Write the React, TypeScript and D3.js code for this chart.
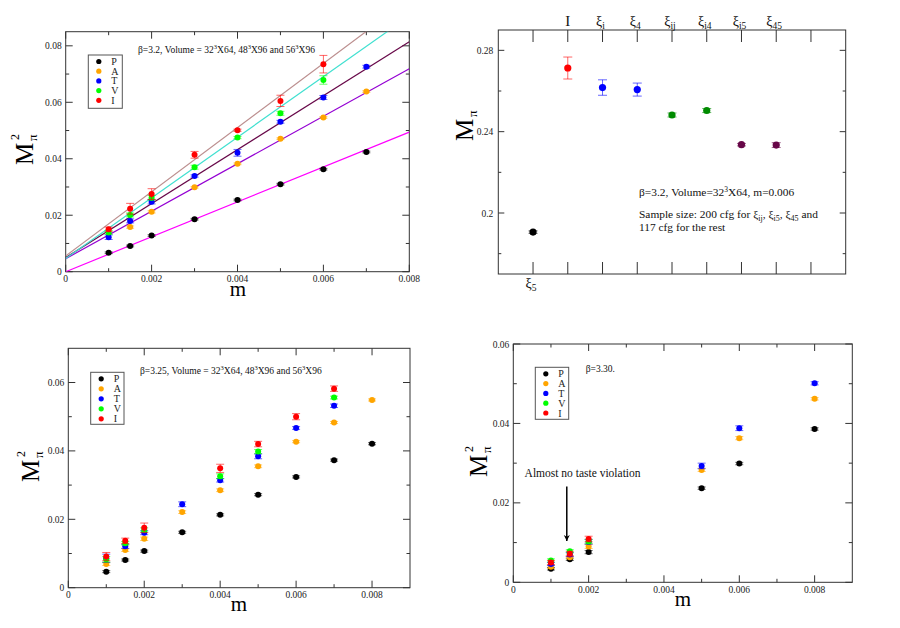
import * as d3 from 'd3';

const FONT = '"Liberation Serif", "Times New Roman", serif';

// taste channels shared by the three mass plots
const tasteNames = ['P', 'A', 'T', 'V', 'I'];
const tasteColors = ['#000000', '#ffa500', '#0000ff', '#00ff00', '#ff0000'];

// beta = 3.2
const mass32 = [0.001, 0.0015, 0.002, 0.003, 0.004, 0.005, 0.006, 0.007];
const p32 = [0.0067, 0.0091, 0.0128, 0.0186, 0.0254, 0.031, 0.0363, 0.0424];
const a32 = [null, 0.0158, 0.0212, 0.0299, 0.0382, 0.0471, 0.0546, 0.0638];
const t32 = [0.0122, 0.018, 0.0248, 0.0339, 0.0421, 0.0531, 0.0617, 0.0726];
const v32 = [0.0139, 0.0201, 0.0262, 0.037, 0.0475, 0.0561, 0.0679, null];
const i32 = [0.015, 0.0223, 0.0275, 0.0414, 0.0501, 0.0605, 0.0735, null];
const p32Err = [0.0003, 0.0003, 0.0003, 0.0003, 0.0003, 0.0003, 0.0003, 0.0003];
const a32Err = [null, 0.0004, 0.0004, 0.0003, 0.0003, 0.0003, 0.0003, 0.0003];
const t32Err = [0.0008, 0.0007, 0.0008, 0.0004, 0.0012, 0.0005, 0.0007, 0.0005];
const v32Err = [0.0007, 0.0007, 0.0008, 0.0007, 0.0004, 0.0007, 0.0015, null];
const i32Err = [0.0008, 0.0019, 0.0019, 0.0012, 0.0004, 0.002, 0.0031, null];
// linear fits M^2 = c + s*m
const fitIntercept32 = [0, 0.0046, 0.005, 0.0047, 0.0056];
const fitSlope32 = [6.18, 8.41, 9.56, 10.73, 11.36];
const fitColors32 = ['#ff00ff', '#9400d3', '#670748', '#40e0d0', '#bc8f8f'];

// beta = 3.25
const mass325 = [0.001, 0.0015, 0.002, 0.003, 0.004, 0.005, 0.006, 0.007, 0.008];
const p325 = [0.0047, 0.0081, 0.0107, 0.0162, 0.0213, 0.0272, 0.0324, 0.0373, 0.0421];
const a325 = [0.0069, 0.011, 0.0143, 0.0221, 0.0285, 0.0355, 0.0427, 0.0483, 0.0549];
const t325 = [0.0086, 0.0121, 0.0161, 0.0244, 0.0314, 0.0384, 0.0467, 0.0532, null];
const v325 = [0.0083, 0.013, 0.0169, null, 0.0326, 0.0398, null, 0.0556, null];
const i325 = [0.0091, 0.0137, 0.0175, null, 0.0349, 0.042, 0.05, 0.0582, null];
const p325Err = [0.0003, 0.0003, 0.0003, 0.0003, 0.0003, 0.0003, 0.0003, 0.0003, 0.0003];
const a325Err = [0.0004, 0.0004, 0.0005, 0.0004, 0.0004, 0.0004, 0.0003, 0.0003, 0.0003];
const t325Err = [0.0012, 0.0006, 0.0006, 0.0007, 0.0005, 0.0007, 0.0004, 0.0005, null];
const v325Err = [0.0008, 0.0005, 0.0006, null, 0.0007, 0.0006, null, 0.0004, null];
const i325Err = [0.0012, 0.0008, 0.0014, null, 0.0012, 0.0008, 0.0009, 0.0008, null];

// beta = 3.30
const mass330 = [0.001, 0.0015, 0.002, 0.005, 0.006, 0.008];
const p330 = [0.0034, 0.0058, 0.0076, 0.0237, 0.0299, 0.0386];
const a330 = [0.0039, 0.0063, 0.009, 0.0283, 0.0363, 0.0462];
const t330 = [0.0046, 0.007, 0.0102, 0.0293, 0.0388, 0.0501];
const v330 = [0.0055, 0.0078, 0.0103, null, null, null];
const i330 = [0.005, 0.0072, 0.0109, null, null, null];
const p330Err = [0.0003, 0.0003, 0.0004, 0.0003, 0.0003, 0.0003];
const a330Err = [0.0004, 0.0004, 0.0005, 0.0004, 0.0004, 0.0003];
const t330Err = [0.0004, 0.0005, 0.0006, 0.0007, 0.0006, 0.0004];
const v330Err = [0.0004, 0.0004, 0.0005, null, null, null];
const i330Err = [0.0005, 0.0006, 0.0007, null, null, null];

// taste splitting at m = 0.006
const splitBase = ['ξ', 'I', 'ξ', 'ξ', 'ξ', 'ξ', 'ξ', 'ξ'];
const splitSub = ['5', '', 'i', '4', 'ij', 'i4', 'i5', '45'];
const splitMpi = [0.1906, 0.2713, 0.2617, 0.2607, 0.2482, 0.2504, 0.2336, 0.2334];
const splitErr = [0.0006, 0.0054, 0.0038, 0.0032, 0.001, 0.001, 0.0006, 0.0012];
const splitColors = ['#000000', '#ff0000', '#0000ff', '#0000ff', '#008b00', '#008b00', '#670748', '#670748'];

const fmt = (v: number) => (Math.abs(v) < 1e-12 ? '0' : String(+v.toFixed(4)));
const steps = (from: number, to: number, step: number) =>
    d3.range(0, Math.floor((to - from) / step + 1e-6) + 1).map(i => +(from + i * step).toFixed(6));

type Box = { left: number; top: number; right: number; bottom: number };

function Frame({ box }: { box: Box }) {
    return (
        <rect x={box.left} y={box.top} width={box.right - box.left} height={box.bottom - box.top}
            fill="none" stroke="#333" strokeWidth={1} />
    );
}

function YLabel({ x, y, sup }: { x: number; y: number; sup: boolean }) {
    return (
        <g transform={`translate(${x},${y}) rotate(-90)`} fontFamily={FONT} fill="#000">
            <text x={0} y={0} fontSize={25}>M</text>
            <text x={24} y={4} fontSize={13}>π</text>
            {sup && <text x={25} y={-14} fontSize={12}>2</text>}
        </g>
    );
}

function ErrPoint({ x, y, e, color, r, cap }: { x: number; y: number; e: number; color: string; r: number; cap: number }) {
    return (
        <g>
            <g stroke={color} strokeWidth={1} strokeOpacity={0.6}>
                <line x1={x} x2={x} y1={y - e} y2={y + e} />
                <line x1={x - cap} x2={x + cap} y1={y - e} y2={y - e} />
                <line x1={x - cap} x2={x + cap} y1={y + e} y2={y + e} />
            </g>
            <circle cx={x} cy={y} r={r} fill={color} />
        </g>
    );
}

type PanelProps = {
    id: string;
    box: Box;
    xMax: number;
    yMax: number;
    mass: number[];
    values: (number | null)[][];
    errors: (number | null)[][];
    fitIntercept?: number[];
    fitSlope?: number[];
    fitColors?: string[];
    legend: { left: number; top: number; width: number; height: number; step: number };
    title: React.ReactNode;
    titleX: number;
    titleY: number;
    yLab: { x: number; y: number };
    xLab: { x: number; y: number };
    children?: (x: d3.ScaleLinear<number, number>, y: d3.ScaleLinear<number, number>) => React.ReactNode;
};

function MassPanel(p: PanelProps) {
    const { box } = p;
    const x = d3.scaleLinear().domain([0, p.xMax]).range([box.left, box.right]);
    const y = d3.scaleLinear().domain([0, p.yMax]).range([box.bottom, box.top]);
    const xMajor = steps(0, p.xMax, 0.002);
    const xMinor = steps(0.001, p.xMax - 0.0001, 0.002);
    const yMajor = steps(0, p.yMax, 0.02);
    const yMinor = steps(0.01, p.yMax - 0.0001, 0.02);
    const big = 7, small = 3.5;
    return (
        <g>
            <defs>
                <clipPath id={p.id}>
                    <rect x={box.left} y={box.top} width={box.right - box.left} height={box.bottom - box.top} />
                </clipPath>
            </defs>
            <g stroke="#333" strokeWidth={1}>
                {xMajor.map(v => (
                    <g key={'xM' + v}>
                        <line x1={x(v)} x2={x(v)} y1={box.bottom} y2={box.bottom - big} />
                        <line x1={x(v)} x2={x(v)} y1={box.top} y2={box.top + big} />
                    </g>
                ))}
                {xMinor.map(v => (
                    <g key={'xm' + v}>
                        <line x1={x(v)} x2={x(v)} y1={box.bottom} y2={box.bottom - small} />
                        <line x1={x(v)} x2={x(v)} y1={box.top} y2={box.top + small} />
                    </g>
                ))}
                {yMajor.map(v => (
                    <g key={'yM' + v}>
                        <line x1={box.left} x2={box.left + big} y1={y(v)} y2={y(v)} />
                        <line x1={box.right} x2={box.right - big} y1={y(v)} y2={y(v)} />
                    </g>
                ))}
                {yMinor.map(v => (
                    <g key={'ym' + v}>
                        <line x1={box.left} x2={box.left + small} y1={y(v)} y2={y(v)} />
                        <line x1={box.right} x2={box.right - small} y1={y(v)} y2={y(v)} />
                    </g>
                ))}
            </g>
            <Frame box={box} />
            <g fontFamily={FONT} fontSize={9.5} fill="#222">
                {xMajor.map(v => (
                    <text key={'xl' + v} x={x(v)} y={box.bottom + 10.5} textAnchor="middle">{fmt(v)}</text>
                ))}
                {yMajor.map(v => (
                    <text key={'yl' + v} x={box.left - 4} y={y(v) + 3.5} textAnchor="end">{fmt(v)}</text>
                ))}
            </g>
            {p.fitSlope && (
                <g clipPath={`url(#${p.id})`}>
                    {p.fitSlope.map((s, k) => (
                        <line key={'fit' + k} x1={x(0)} y1={y(p.fitIntercept![k])}
                            x2={x(p.xMax)} y2={y(p.fitIntercept![k] + s * p.xMax)}
                            stroke={p.fitColors![k]} strokeWidth={1.2} />
                    ))}
                </g>
            )}
            {p.values.map((vals, k) =>
                vals.map((v, j) =>
                    v == null ? null : (
                        <ErrPoint key={`pt${k}-${j}`} x={x(p.mass[j])} y={y(v)}
                            e={Math.abs(y(0) - y(p.errors[k][j] ?? 0))}
                            color={tasteColors[k]} r={3} cap={4} />
                    )
                )
            )}
            <rect x={p.legend.left} y={p.legend.top} width={p.legend.width} height={p.legend.height}
                fill="#fff" stroke="#555" strokeWidth={1} />
            {tasteNames.map((n, k) => (
                <g key={'lg' + n}>
                    <circle cx={p.legend.left + 10.5} cy={p.legend.top + 6.5 + k * p.legend.step} r={2.6} fill={tasteColors[k]} />
                    <text x={p.legend.left + 23} y={p.legend.top + 10 + k * p.legend.step}
                        fontFamily={FONT} fontSize={10} fill="#222">{n}</text>
                </g>
            ))}
            <text x={p.titleX} y={p.titleY} fontFamily={FONT} fontSize={9.5} fill="#111">{p.title}</text>
            <YLabel x={p.yLab.x} y={p.yLab.y} sup={true} />
            <text x={p.xLab.x} y={p.xLab.y} textAnchor="middle" fontFamily={FONT} fontSize={21} fill="#000">m</text>
            {p.children && p.children(x, y)}
        </g>
    );
}

function volumeTitle(beta: string) {
    return (
        <>
            β={beta}, Volume = 32<tspan dy={-4} fontSize={6.5}>3</tspan>
            <tspan dy={4}>X64, 48</tspan><tspan dy={-4} fontSize={6.5}>3</tspan>
            <tspan dy={4}>X96 and 56</tspan><tspan dy={-4} fontSize={6.5}>3</tspan>
            <tspan dy={4}>X96</tspan>
        </>
    );
}

function SplitPanel() {
    const box = { left: 498.3, top: 30, right: 845.7, bottom: 274 };
    const x = d3.scaleLinear().domain([0, 10]).range([box.left, box.right]);
    const y = d3.scaleLinear().domain([0.17, 0.29]).range([box.bottom, box.top]);
    const xTicks = d3.range(1, 10);
    const yMajor = [0.2, 0.24, 0.28];
    const yMinor = [0.18, 0.22, 0.26];
    return (
        <g>
            <g stroke="#333" strokeWidth={1}>
                {xTicks.map(v => (
                    <g key={'st' + v}>
                        <line x1={x(v)} x2={x(v)} y1={box.bottom} y2={box.bottom - 12} />
                        <line x1={x(v)} x2={x(v)} y1={box.top} y2={box.top + 12} />
                    </g>
                ))}
                {yMajor.map(v => (
                    <g key={'sM' + v}>
                        <line x1={box.left} x2={box.left + 6} y1={y(v)} y2={y(v)} />
                        <line x1={box.right} x2={box.right - 6} y1={y(v)} y2={y(v)} />
                    </g>
                ))}
                {yMinor.map(v => (
                    <g key={'sm' + v}>
                        <line x1={box.left} x2={box.left + 3} y1={y(v)} y2={y(v)} />
                        <line x1={box.right} x2={box.right - 3} y1={y(v)} y2={y(v)} />
                    </g>
                ))}
            </g>
            <Frame box={box} />
            <g fontFamily={FONT} fontSize={9.5} fill="#222">
                {yMajor.map(v => (
                    <text key={'syl' + v} x={box.left - 5} y={y(v) + 3.5} textAnchor="end">{fmt(v)}</text>
                ))}
            </g>
            <g fontFamily={FONT} fill="#111">
                {splitBase.map((b, k) => {
                    const cx = x(k + 1);
                    const bottom = k === 0;
                    const ty = bottom ? box.bottom + 14 : box.top - 4;
                    const isI = b === 'I';
                    return (
                        <text key={'lab' + k} x={cx - (isI ? 0 : 2)} y={ty} textAnchor="middle" fontSize={isI ? 15 : 14}>
                            {b}
                            {splitSub[k] && <tspan dy={3} fontSize={9.5}>{splitSub[k]}</tspan>}
                        </text>
                    );
                })}
            </g>
            {splitMpi.map((v, k) => (
                <ErrPoint key={'sp' + k} x={x(k + 1)} y={y(v)} e={Math.abs(y(0.17) - y(0.17 + splitErr[k]))}
                    color={splitColors[k]} r={3.6} cap={4.5} />
            ))}
            <g fontFamily={FONT} fontSize={11.4} fill="#111">
                <text x={639} y={196}>
                    β=3.2, Volume=32<tspan dy={-4.5} fontSize={7.5}>3</tspan><tspan dy={4.5}>X64, m=0.006</tspan>
                </text>
                <text x={639} y={218}>
                    Sample size: 200 cfg for ξ<tspan dy={2.5} fontSize={8}>ij</tspan>
                    <tspan dy={-2.5}>, ξ</tspan><tspan dy={2.5} fontSize={8}>i5</tspan>
                    <tspan dy={-2.5}>, ξ</tspan><tspan dy={2.5} fontSize={8}>45</tspan>
                    <tspan dy={-2.5}> and</tspan>
                </text>
                <text x={639} y={231}>117 cfg for the rest</text>
            </g>
            <YLabel x={473} y={141} sup={false} />
        </g>
    );
}

export default function App() {
    return (
        <div style={{ position: 'absolute', left: 0, top: 0, width: 900, height: 628, background: '#fff' }}>
            <svg width={900} height={628} style={{ display: 'block' }}>
                <rect width={900} height={628} fill="#fff" />
                <MassPanel
                    id="c32"
                    box={{ left: 65.7, top: 31.7, right: 409.3, bottom: 271.7 }}
                    xMax={0.008} yMax={0.085}
                    mass={mass32}
                    values={[p32, a32, t32, v32, i32]}
                    errors={[p32Err, a32Err, t32Err, v32Err, i32Err]}
                    fitIntercept={fitIntercept32} fitSlope={fitSlope32} fitColors={fitColors32}
                    legend={{ left: 88.3, top: 55, width: 34, height: 53.3, step: 9.7 }}
                    title={volumeTitle('3.2')} titleX={138} titleY={52.5}
                    yLab={{ x: 33, y: 165 }} xLab={{ x: 238, y: 296 }}
                />
                <SplitPanel />
                <MassPanel
                    id="c325"
                    box={{ left: 68.3, top: 348.3, right: 410, bottom: 587.7 }}
                    xMax={0.009} yMax={0.07}
                    mass={mass325}
                    values={[p325, a325, t325, v325, i325]}
                    errors={[p325Err, a325Err, t325Err, v325Err, i325Err]}
                    legend={{ left: 90.7, top: 372.3, width: 33.3, height: 52, step: 10 }}
                    title={volumeTitle('3.25')} titleX={140} titleY={374}
                    yLab={{ x: 39, y: 482 }} xLab={{ x: 239, y: 611 }}
                />
                <MassPanel
                    id="c330"
                    box={{ left: 513.3, top: 344, right: 852.3, bottom: 582.3 }}
                    xMax={0.009} yMax={0.06}
                    mass={mass330}
                    values={[p330, a330, t330, v330, i330]}
                    errors={[p330Err, a330Err, t330Err, v330Err, i330Err]}
                    legend={{ left: 535.3, top: 367.3, width: 33.4, height: 52, step: 9.8 }}
                    title={<>β=3.30.</>} titleX={585.7} titleY={371.5}
                    yLab={{ x: 487, y: 477 }} xLab={{ x: 683, y: 606 }}
                >
                    {(x, y) => (
                        <g>
                            <defs>
                                <marker id="arrowHead" viewBox="0 0 10 10" refX={10} refY={5}
                                    markerWidth={6} markerHeight={9} orient="auto" markerUnits="userSpaceOnUse">
                                    <path d="M0,0 L10,5 L0,10 L3,5 z" fill="#000" />
                                </marker>
                            </defs>
                            <text x={x(0.0003)} y={y(0.0265)} fontFamily={FONT} fontSize={11.5} fill="#111">
                                Almost no taste violation
                            </text>
                            <line x1={x(0.00142)} x2={x(0.00142)} y1={y(0.0241)} y2={y(0.0104)}
                                stroke="#000" strokeWidth={1.5} markerEnd="url(#arrowHead)" />
                        </g>
                    )}
                </MassPanel>
            </svg>
        </div>
    );
}
